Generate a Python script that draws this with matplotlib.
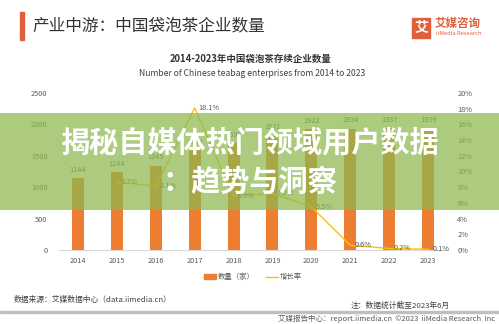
import matplotlib
matplotlib.use("Agg")
import matplotlib.pyplot as plt
from matplotlib.patches import Rectangle, Patch
from matplotlib.lines import Line2D

plt.rcParams['font.family'] = ['Noto Sans CJK SC', 'DejaVu Sans']

years = ["2014", "2015", "2016", "2017", "2018", "2019", "2020", "2021", "2022", "2023"]
counts = [1144, 1244, 1345, 1589, 1699, 1821, 1922, 1934, 1937, 1939]
growth_years = years[1:]
growth = [8.7, 8.1, 18.1, 6.9, 7.2, 5.5, 0.6, 0.2, 0.1]
left_ticks = [0, 500, 1000, 1500, 2000, 2500]
right_ticks = [0, 2, 4, 6, 8, 10, 12, 14, 16, 18, 20]

W, H = 499, 324
fig = plt.figure(figsize=(W / 100, H / 100), dpi=100)
fig.patch.set_facecolor("white")

def fx(x): return x / W
def fy(y): return 1 - y / H

ax_l, ax_r, ax_t, ax_b = 58.5, 447.5, 93, 250
ax = fig.add_axes([fx(ax_l), fy(ax_b), (ax_r - ax_l) / W, (ax_b - ax_t) / H])
ax2 = ax.twinx()

orange = "#ED7D31"
gold = "#FFC000"
tick_c = "#595959"

xs = list(range(len(years)))
bars = ax.bar(xs, counts, width=0.31, color=orange, zorder=2)
ax.set_xlim(-0.5, len(years) - 0.5)
ax.set_ylim(0, 2500)
ax.set_yticks(left_ticks)
ax.set_xticks(xs)
ax.set_xticklabels(years)
for c, x in zip(counts, xs):
    ax.annotate(str(c), (x, c), xytext=(0, 3), textcoords="offset points",
                ha="center", va="bottom", fontsize=5.3, color=tick_c)

gx = [years.index(y) for y in growth_years]
ax2.plot(gx, growth, color=gold, lw=1.0, zorder=3)
ax2.set_ylim(0, 20)
ax2.set_yticks(right_ticks)
ax2.set_yticklabels([f"{t}%" for t in right_ticks])
for x, g in zip(gx, growth):
    ax2.annotate(f"{g}%", (x, g), xytext=(3, 0), textcoords="offset points",
                 ha="left", va="center", fontsize=5.3, color=tick_c)

for a in (ax, ax2):
    for s in a.spines.values():
        s.set_visible(False)
    a.tick_params(length=0, labelsize=5.3, labelcolor=tick_c)
ax.spines["bottom"].set_visible(True)
ax.spines["bottom"].set_color("#D9D9D9")
ax.spines["bottom"].set_linewidth(0.8)
ax.tick_params(axis="y", pad=8)
ax.tick_params(axis="x", pad=5)
ax2.tick_params(axis="y", pad=7)

# legend
handles = [Patch(color=orange, label="数量（家）"),
           Line2D([0], [0], color=gold, lw=1.0, label="增长率")]
fig.legend(handles=handles, loc="center", bbox_to_anchor=(fx(253), fy(277)), ncol=2,
           frameon=False, fontsize=5.3, handlelength=1.6, handleheight=0.6,
           columnspacing=1.5, handletextpad=0.3, labelcolor=tick_c)

# header
fig.add_artist(Rectangle((fx(20), fy(40)), 4 / W, 28 / H, transform=fig.transFigure,
                         color="#E0603C"))
fig.text(fx(32), fy(26), "产业中游：中国袋泡茶企业数量", fontsize=12, color="#333333",
         ha="left", va="center", fontweight="medium")
# logo
fig.add_artist(Rectangle((fx(412), fy(38)), 18 / W, 20 / H, transform=fig.transFigure,
                         color="#E0603C"))
fig.text(fx(421), fy(28), "艾", fontsize=10, color="white", ha="center", va="center",
         fontweight="bold")
fig.text(fx(435), fy(23), "艾媒咨询", fontsize=8.3, color="#E0603C", ha="left", va="center",
         fontweight="bold")
fig.text(fx(436), fy(33.5), "iiMedia Research", fontsize=4.2, color="#E0603C", ha="left",
         va="center")

fig.text(fx(251), fy(59), "2014-2023年中国袋泡茶存续企业数量", fontsize=6.8, color="#333333",
         ha="center", va="center", fontweight="bold")
fig.text(fx(252), fy(74), "Number of Chinese teabag enterprises from 2014 to 2023",
         fontsize=6.2, color="#404040", ha="center", va="center")

# footer
fig.text(fx(14), fy(300), "数据来源：艾媒数据中心（data.iimedia.cn）", fontsize=5.6,
         color="#404040", ha="left", va="center")
fig.text(fx(450), fy(306), "注：数据统计截至2023年6月", fontsize=5.6, color="#404040",
         ha="right", va="center")
fig.add_artist(Rectangle((0, fy(313)), 1, 2.5 / H, transform=fig.transFigure,
                         color="#BFBFBF"))
fig.text(fx(495), fy(318.5), "艾媒报告中心：report.iimedia.cn  ©2023  iiMedia Research  Inc",
         fontsize=5.4, color="#595959", ha="right", va="center")

# overlay banner
fig.add_artist(Rectangle((0, fy(210)), 1, 97 / H, transform=fig.transFigure,
                         facecolor=(0.55, 0.72, 0.30), alpha=0.72, edgecolor="none",
                         zorder=10))
fig.text(fx(250), fy(142), "揭秘自媒体热门领域用户数据", fontsize=21, color="white",
         ha="center", va="center", fontweight="bold", zorder=11)
fig.text(fx(250), fy(182), "：趋势与洞察", fontsize=21, color="white",
         ha="center", va="center", fontweight="bold", zorder=11)

fig.savefig("out.png", dpi=100, facecolor="white")
